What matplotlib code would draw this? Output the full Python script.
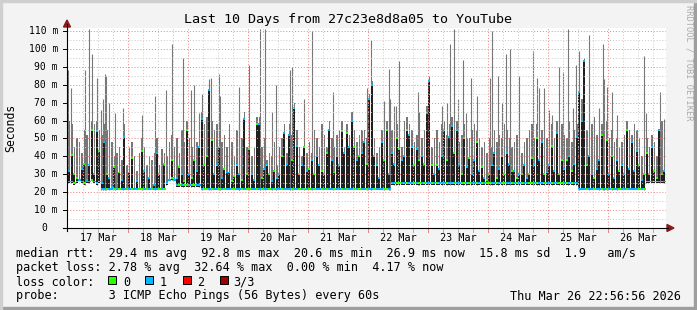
import matplotlib
matplotlib.use("Agg")
import matplotlib.pyplot as plt
from matplotlib.patches import Rectangle, Polygon
from matplotlib.lines import Line2D

# hourly bins, hour 0 = 17 Mar 00:00
baseline = (
    [25, 25, 24, 25, 26, 25, 24, 25, 25, 26, 25, 24, 25, 21, 21, 21, 21, 21, 21, 21, 21, 21, 21, 21]
    + [21, 21, 21, 21, 21, 21, 21, 21, 21, 21, 21, 21, 21, 21, 21, 24, 26, 27, 26, 23, 23, 23, 23, 23]
    + [23, 23, 23, 23, 23, 21, 21, 21, 21, 21, 21, 21, 21, 21, 21, 21, 21, 21, 21, 21, 21, 21, 21, 21]
    + [21, 21, 21, 21, 21, 21, 21, 21, 21, 21, 21, 21, 21, 21, 21, 21, 21, 21, 21, 21, 21, 21, 21, 21]
    + [21, 21, 21, 21, 21, 21, 21, 21, 21, 21, 21, 21, 21, 21, 21, 21, 21, 21, 21, 21, 21, 21, 21, 21]
    + [21, 21, 21, 21, 21, 21, 21, 21, 21, 24, 24, 24, 24, 24, 24, 24, 24, 24, 24, 24, 24, 24, 24, 24]
    + [24, 24, 24, 24, 24, 24, 24, 24, 24, 24, 24, 24, 24, 24, 24, 24, 24, 24, 24, 24, 24, 24, 24, 24]
    + [24, 24, 24, 24, 24, 24, 24, 24, 24, 24, 24, 24, 24, 24, 24, 24, 24, 24, 24, 24, 24, 24, 24, 24]
    + [24, 24, 24, 24, 24, 24, 24, 24, 24, 24, 24, 24, 21, 21, 21, 21, 21, 21, 21, 21, 21, 21, 21, 21]
    + [21, 21, 21, 21, 21, 21, 21, 21, 21, 21, 21, 21, 21, 21, 21, 25, 25, 25, 25, 25, 25, 25, 25, 25]
)

median = (
    [32, 41, 30, 28, 27, 33, 36, 27, 35, 55, 30, 54, 43, 25, 48, 30, 28, 23, 34, 22, 31, 27, 51, 22]
    + [31, 39, 22, 26, 22, 43, 32, 22, 28, 22, 24, 42, 30, 22, 36, 25, 27, 38, 28, 28, 34, 30, 26, 55]
    + [30, 28, 38, 32, 45, 61, 35, 40, 77, 49, 30, 35, 45, 28, 33, 31, 31, 26, 29, 35, 30, 27, 61, 30]
    + [44, 30, 27, 58, 58, 28, 33, 35, 30, 26, 32, 28, 30, 40, 53, 36, 52, 38, 67, 46, 30, 35, 45, 32]
    + [33, 38, 30, 40, 35, 32, 30, 42, 55, 38, 31, 40, 35, 54, 42, 53, 45, 60, 45, 38, 40, 42, 48, 36]
    + [72, 80, 40, 35, 28, 48, 38, 55, 30, 42, 36, 50, 44, 38, 40, 55, 52, 45, 35, 44, 38, 40, 36, 64]
    + [82, 35, 30, 35, 33, 40, 55, 38, 51, 57, 42, 55, 36, 30, 50, 34, 39, 30, 38, 48, 32, 34, 28, 27]
    + [30, 35, 42, 28, 33, 40, 30, 42, 36, 32, 32, 28, 30, 30, 35, 28, 30, 39, 35, 50, 38, 48, 30, 31]
    + [35, 46, 32, 53, 30, 38, 33, 38, 40, 32, 36, 51, 76, 60, 93, 35, 40, 30, 28, 33, 38, 52, 30, 49]
    + [30, 40, 28, 38, 32, 35, 30, 55, 33, 48, 32, 43, 35, 27, 30, 42, 30, 45, 32, 28, 55, 30, 32, 28]
)

smoke_top = (
    [60, 58, 45, 50, 48, 42, 55, 52, 62, 60, 58, 60, 55, 52, 58, 55, 45, 48, 40, 42, 45, 38, 58, 35]
    + [45, 48, 40, 32, 42, 50, 45, 35, 40, 38, 42, 50, 35, 44, 42, 40, 48, 52, 45, 50, 42, 55, 48, 60]
    + [50, 45, 55, 48, 58, 65, 58, 62, 80, 60, 55, 58, 55, 48, 52, 45, 58, 48, 40, 55, 45, 50, 65, 45]
    + [55, 40, 45, 62, 62, 45, 50, 38, 42, 40, 48, 35, 45, 50, 58, 42, 58, 52, 70, 55, 45, 40, 52, 42]
    + [48, 42, 55, 50, 45, 58, 52, 45, 60, 50, 45, 52, 55, 60, 45, 58, 52, 65, 55, 48, 52, 55, 55, 50]
    + [75, 82, 50, 42, 45, 55, 48, 60, 50, 55, 52, 58, 50, 45, 60, 62, 58, 55, 48, 52, 40, 50, 55, 68]
    + [85, 45, 50, 55, 48, 58, 60, 52, 58, 62, 55, 60, 48, 52, 58, 50, 50, 55, 58, 55, 50, 45, 48, 42]
    + [50, 45, 55, 48, 52, 50, 58, 55, 50, 45, 48, 52, 45, 42, 48, 50, 55, 58, 50, 58, 52, 55, 45, 50]
    + [55, 58, 50, 60, 55, 58, 52, 50, 60, 48, 55, 58, 80, 72, 95, 55, 50, 58, 62, 52, 50, 58, 55, 60]
    + [50, 55, 48, 50, 45, 48, 52, 60, 55, 52, 58, 55, 50, 40, 45, 50, 45, 52, 48, 40, 42, 60, 45, 38]
)

loss = (
    [1, 0, 0, 0, 1, 1, 0, 1, 1, 0, 1, 1, 0, 1, 1, 0, 1, 1, 0, 1, 0, 1, 1, 0]
    + [1, 0, 1, 1, 0, 0, 1, 0, 1, 0, 1, 1, 0, 1, 0, 1, 1, 0, 1, 1, 0, 1, 0, 0]
    + [1, 0, 0, 1, 1, 1, 0, 0, 1, 0, 1, 1, 0, 1, 0, 1, 1, 0, 0, 1, 1, 0, 1, 0]
    + [0, 1, 1, 0, 1, 0, 1, 1, 0, 1, 0, 1, 1, 0, 1, 1, 1, 0, 1, 1, 0, 1, 0, 1]
    + [0, 1, 0, 1, 1, 0, 1, 0, 1, 1, 0, 1, 1, 0, 1, 0, 1, 1, 0, 1, 0, 1, 1, 0]
    + [1, 1, 0, 1, 1, 1, 0, 0, 1, 1, 1, 0, 0, 1, 1, 0, 1, 1, 0, 1, 0, 1, 0, 1]
    + [1, 0, 1, 0, 1, 1, 1, 0, 1, 1, 0, 1, 1, 0, 0, 1, 0, 1, 1, 0, 1, 0, 1, 0]
    + [0, 1, 1, 0, 1, 0, 0, 1, 1, 0, 1, 0, 1, 0, 1, 1, 0, 0, 1, 0, 1, 1, 0, 1]
    + [1, 0, 1, 1, 0, 0, 1, 0, 1, 0, 1, 1, 1, 1, 1, 0, 1, 1, 0, 1, 1, 0, 1, 0]
    + [1, 0, 1, 1, 0, 1, 1, 0, 1, 1, 1, 1, 0, 1, 0, 0, 0, 1, 0, 0, 1, 0, 1, 0]
)

# single tall smoke spikes: hour position, top value (ms)
spike_hour = [0.0, 1.2, 6.9, 8.5, 9.7, 11.7, 13.3, 14.1, 14.9, 15.3, 16.5, 18.9, 22.1,
              29.7, 34.9, 39.3, 41.7, 46.1, 49.2, 50.5, 52.5, 53.7, 56.3, 57.2, 60.4, 60.8,
              68.3, 68.5, 72.4, 76.9, 78.9, 81.5, 83.3, 88.7, 89.5, 94.3, 97.5, 106.1,
              119.7, 121.3, 126.4, 128.5, 128.9, 130.3, 131.3, 132.5, 139.9, 140.3,
              149.7, 151.5, 152.8, 154.3, 155.9, 158.1, 159.3, 161.3, 163.5, 168.9, 169.5,
              172.1, 173.5, 175.3, 176.9, 180.4, 186.1, 187.7, 188.5, 190.5, 192.3, 193.6,
              196.3, 198.1, 200.1, 202.1, 203.3, 204.4, 208.5, 212.5, 214.1, 214.5, 215.5,
              217.7, 219.7, 230.4, 231.2, 236.8, 238.3]
spike_top = [88, 78, 88, 111, 97, 84, 66, 72, 86, 85, 70, 64, 67,
             63, 74, 77, 103, 95, 77, 80, 64, 75, 83, 84, 86, 74,
             66, 79, 91, 111, 111, 65, 80, 88, 90, 72, 110, 76,
             78, 105, 71, 89, 72, 68, 68, 93, 76, 65,
             68, 70, 103, 111, 72, 94, 64, 84, 74, 84, 110,
             85, 70, 97, 100, 85, 99, 84, 78, 78, 66, 63,
             90, 87, 111, 67, 91, 99, 108, 67, 103, 83, 79,
             76, 63, 96, 64, 76, 61]

day_labels = ["17 Mar", "18 Mar", "19 Mar", "20 Mar", "21 Mar",
              "22 Mar", "23 Mar", "24 Mar", "25 Mar", "26 Mar"]
y_values = [0, 10, 20, 30, 40, 50, 60, 70, 80, 90, 100, 110]
y_labels = ["0", "10 m", "20 m", "30 m", "40 m", "50 m", "60 m", "70 m",
            "80 m", "90 m", "100 m", "110 m"]

loss_names = ["0", "1", "2", "3/3"]
loss_colors = ["#26ff00", "#00b8ff", "#ff0000", "#a10000"]

rtt_line = "median rtt:  29.4 ms avg  92.8 ms max  20.6 ms min  26.9 ms now  15.8 ms sd  1.9   am/s"
loss_line = "packet loss: 2.78 % avg  32.64 % max  0.00 % min  4.17 % now"
probe_line = "probe:       3 ICMP Echo Pings (56 Bytes) every 60s"
stamp = "Thu Mar 26 22:56:56 2026"
title = "Last 10 Days from 27c23e8d8a05 to YouTube"

W, H = 697, 310
MONO = "DejaVu Sans Mono"
L, R, T, B = 67, 666, 28, 228
YTOP = 111.7


def fx(x):
    return x / W


def fy(y):
    return 1 - y / H


fig = plt.figure(figsize=(W / 100, H / 100), dpi=100)
fig.patch.set_facecolor("#f3f3f3")

ax = fig.add_axes([fx(L), fy(B), (R - L) / W, (B - T) / H])
ax.set_facecolor("white")
ax.set_xlim(-0.4, 239.2)
ax.set_ylim(0, YTOP)
for s in ax.spines.values():
    s.set_visible(False)
ax.set_xticks([])
ax.set_yticks([])

hours = [i + 0.5 for i in range(len(median))]
tick_colors = [loss_colors[v] for v in loss]

# smoke: grey min..max, dark min..median
ax.bar(hours, [t - b for t, b in zip(smoke_top, baseline)], bottom=baseline,
       width=0.6, color="#777777", linewidth=0, zorder=2)
ax.vlines(spike_hour, [baseline[int(h)] for h in spike_hour], spike_top,
          color="#777777", lw=0.8, zorder=2)
ax.bar(hours, [m - b for m, b in zip(median, baseline)], bottom=baseline,
       width=0.75, color="#202020", linewidth=0, zorder=3)
# median line: low floor and the raised samples
ax.bar(hours, 1.0, bottom=[b + 0.5 for b in baseline], width=1.0,
       color=tick_colors, zorder=4, linewidth=0)
ax.bar(hours, 1.1, bottom=[m - 0.55 for m in median], width=0.8,
       color=tick_colors, zorder=4, linewidth=0)

# grid: 6 h / 5 ms minor, 1 day / 10 ms major
for h in range(6, 240, 6):
    if h % 24:
        ax.axvline(h, color="#c8c8c8", lw=0.7, ls=(0, (1, 2)), zorder=5)
for v in range(5, 112, 10):
    ax.axhline(v, color="#c8c8c8", lw=0.7, ls=(0, (1, 2)), zorder=5)
for h in range(24, 240, 24):
    ax.axvline(h, color="#f08080", lw=0.7, ls=(0, (1, 2)), zorder=5)
for v in y_values[1:]:
    ax.axhline(v, color="#f08080", lw=0.7, ls=(0, (1, 2)), zorder=5)

# x tick marks below the axis and day labels
for h in range(6, 240, 6):
    col = "#f08080" if h % 24 == 0 else "#b0b0b0"
    ax.plot([h, h], [-0.6, -2.0], color=col, lw=0.7, clip_on=False, zorder=5)
for k, lab in enumerate(day_labels):
    ax.text(12 + 24 * k, -3.0, lab, ha="center", va="top", family=MONO,
            fontsize=7.3, color="#000000")
for v, lab in zip(y_values, y_labels):
    yp = fy(B - v * (B - T) / YTOP)
    fig.text(fx(58 if v else 47), yp, lab, ha="right", va="center",
             family=MONO, fontsize=7.0)
    fig.add_artist(Line2D([fx(63), fx(L)], [yp, yp], color="black", lw=0.7))

# axes lines and arrows
fig.add_artist(Line2D([fx(L), fx(L)], [fy(B + 3), fy(T - 4)], color="black", lw=0.8))
fig.add_artist(Line2D([fx(L - 4), fx(R + 2)], [fy(B), fy(B)], color="black", lw=0.8))
fig.add_artist(Polygon([[fx(R + 1), fy(B - 3.5)], [fx(R + 1), fy(B + 3.5)], [fx(R + 8), fy(B)]],
                       closed=True, color="#8b1a1a", transform=fig.transFigure))
fig.add_artist(Polygon([[fx(L - 3.5), fy(T - 1)], [fx(L + 3.5), fy(T - 1)], [fx(L), fy(T - 8)]],
                       closed=True, color="#8b1a1a", transform=fig.transFigure))

fig.text(fx(348), fy(19), title, ha="center", va="center", family=MONO, fontsize=9.6)
fig.text(fx(11), fy(128), "Seconds", rotation=90, ha="center", va="center",
         family=MONO, fontsize=8.3)
fig.text(fx(689), fy(5), "RRDTOOL / TOBI OETIKER", rotation=270, ha="center", va="top",
         family=MONO, fontsize=6.2, color="#aaaaaa")

LEG = 8.5
fig.text(fx(16), fy(254), rtt_line, ha="left", va="center", family=MONO, fontsize=LEG)
fig.text(fx(16), fy(268), loss_line, ha="left", va="center", family=MONO, fontsize=LEG)
fig.text(fx(16), fy(282), "loss color:", ha="left", va="center", family=MONO, fontsize=LEG)
box_x = [108, 145, 182.5, 219.5]
lab_x = [123, 160, 197, 233]
for bx, lx, name, col in zip(box_x, lab_x, loss_names, loss_colors):
    fig.add_artist(Rectangle((fx(bx), fy(284)), 8 / W, 8 / H, facecolor=col,
                             edgecolor="black", lw=0.7, transform=fig.transFigure))
    fig.text(fx(lx), fy(282), name, ha="left", va="center", family=MONO, fontsize=LEG)
fig.text(fx(16), fy(296), probe_line, ha="left", va="center", family=MONO, fontsize=LEG)
fig.text(fx(681), fy(296), stamp, ha="right", va="center", family=MONO, fontsize=LEG)

# frame shading
fig.add_artist(Rectangle((0, 0), 1, 3 / H, color="#9e9e9e", transform=fig.transFigure))
fig.add_artist(Rectangle((1 - 3 / W, 0), 3 / W, 1, color="#9e9e9e", transform=fig.transFigure))
fig.add_artist(Rectangle((0, 1 - 2 / H), 1, 2 / H, color="#cfcfcf", transform=fig.transFigure))
fig.add_artist(Rectangle((0, 0), 2 / W, 1, color="#cfcfcf", transform=fig.transFigure))

fig.savefig("out.png", dpi=100, facecolor=fig.get_facecolor())
